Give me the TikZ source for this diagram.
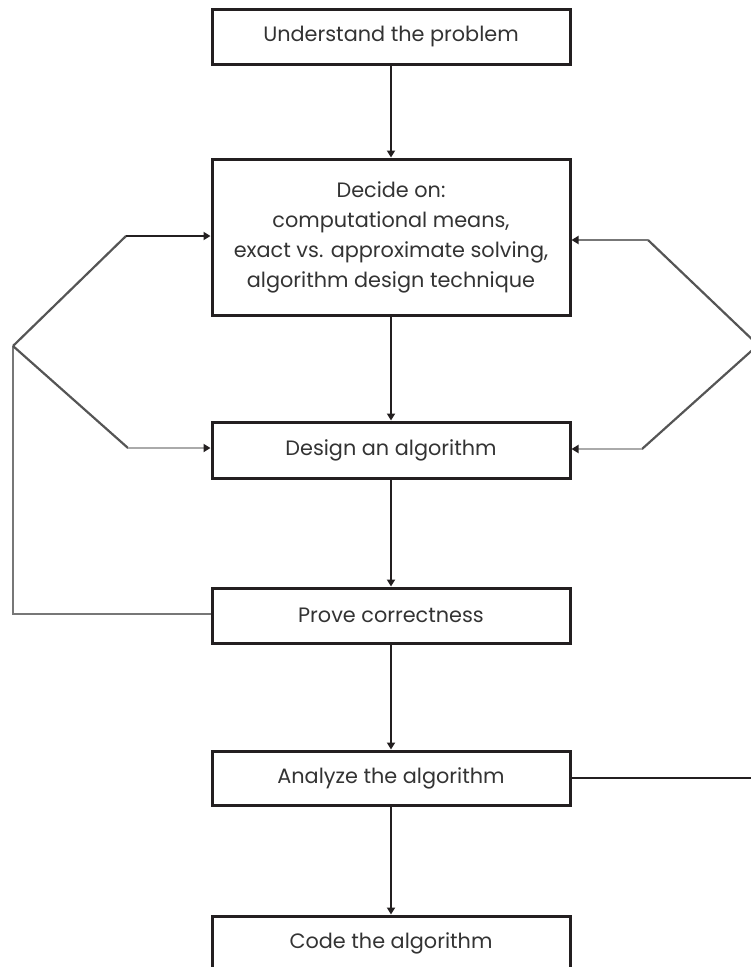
\documentclass[tikz,border=0pt]{standalone}
\usepackage{fontspec}
\setmainfont{Poppins}
\usetikzlibrary{arrows.meta}
\definecolor{boxline}{HTML}{231F20}
\definecolor{txt}{HTML}{333333}
\definecolor{gA}{HTML}{555555}
\definecolor{gB}{HTML}{777777}
\definecolor{gC}{HTML}{AAAAAA}
\begin{document}
\begin{tikzpicture}[x=1pt,y=-1pt,
  box/.style={draw=boxline,line width=3pt,minimum width=358pt,minimum height=55pt,
    inner sep=0pt,align=center,text=txt,font=\fontsize{20.8}{30}\selectfont},
  conn/.style={line width=2.2pt,draw=boxline},
  arr/.style={conn,-{Triangle[length=7pt,width=8pt]}}]
\useasboundingbox (0,0) rectangle (751,967);
\node[box] (b1) at (391,36.5) {Understand the problem};
\node[box,minimum height=156pt] (b2) at (391,237) {Decide on:\\computational means,\\exact vs. approximate solving,\\algorithm design technique};
\node[box,minimum height=56pt] (b3) at (391,450) {Design an algorithm};
\node[box] (b4) at (391,615.5) {Prove correctness};
\node[box,minimum height=54pt] (b5) at (391,778) {Analyze the algorithm};
\node[box] (b6) at (391,943.5) {Code the algorithm};
\draw[arr] (b1) -- (b2);
\draw[arr] (b2) -- (b3);
\draw[arr] (b3) -- (b4);
\draw[arr] (b4) -- (b5);
\draw[arr] (b5) -- (b6);
% left loop
\coordinate (la) at (13,346);
\coordinate (lc) at (13,614);
\coordinate (lu) at (126,236);
\coordinate (ll) at (128,448);
\draw[conn,draw=gB,line join=miter] (b4.west |- lc) -- (lc) -- (la);
\draw[conn,draw=gA] (la) -- (lu);
\draw[conn,draw=gA] (la) -- (ll);
\draw[arr] (lu) -- (b2.west |- lu);
\draw[conn,draw=gC,-{Triangle[length=7pt,width=8pt,color=boxline]}] (ll) -- (b3.west |- ll);
% right loop
\coordinate (ra) at (758,345);
\coordinate (rc) at (758,778);
\coordinate (ru) at (648,240);
\coordinate (rl) at (642,449);
\draw[conn] (b5.east) -- (rc) -- (ra);
\draw[conn,draw=gA] (ra) -- (ru);
\draw[conn,draw=gA] (ra) -- (rl);
\draw[conn,draw=gB,-{Triangle[length=7pt,width=8pt,color=boxline]}] (ru) -- (b2.east |- ru);
\draw[conn,draw=gC,-{Triangle[length=7pt,width=8pt,color=boxline]}] (rl) -- (b3.east |- rl);
\end{tikzpicture}
\end{document}
